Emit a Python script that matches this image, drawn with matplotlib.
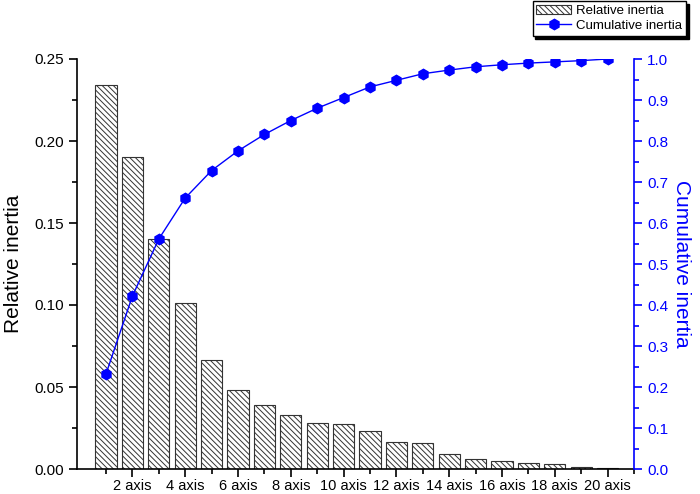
import matplotlib
matplotlib.use("Agg")
import matplotlib.pyplot as plt
from matplotlib.ticker import MultipleLocator, FixedLocator

plt.rcParams["font.family"] = ["Liberation Sans", "DejaVu Sans"]
plt.rcParams["hatch.linewidth"] = 0.7
plt.rcParams["hatch.color"] = "#333333"

# values
axes_idx = list(range(1, 21))
relative = [0.234, 0.190, 0.140, 0.101, 0.0665, 0.048, 0.0388, 0.0327, 0.0279,
            0.0273, 0.0234, 0.0163, 0.0157, 0.0091, 0.0059, 0.0051, 0.0035,
            0.0029, 0.0014, 0.0004]
cumulative = [0.232, 0.422, 0.561, 0.661, 0.728, 0.776, 0.816, 0.850, 0.880,
              0.906, 0.932, 0.948, 0.964, 0.973, 0.981, 0.986, 0.990, 0.993,
              0.996, 1.000]
tick_pos = list(range(2, 21, 2))
tick_labels = [f"{i} axis" for i in tick_pos]

blue = "#0000ff"

fig = plt.figure(figsize=(7, 4.94), dpi=100)
ax = fig.add_axes([77 / 700, 1 - 469 / 494, (634 - 77) / 700, (469 - 59) / 494])

bars = ax.bar(axes_idx, relative, width=0.8, color="white", edgecolor="#333333",
              linewidth=0.8, hatch="\\\\\\\\\\\\", label="Relative inertia")
ax.set_xlim(-0.1, 21)
ax.set_ylim(0, 0.25)
ax.yaxis.set_major_locator(MultipleLocator(0.05))
ax.yaxis.set_minor_locator(MultipleLocator(0.025))
ax.xaxis.set_major_locator(FixedLocator(tick_pos))
ax.xaxis.set_minor_locator(FixedLocator(list(range(1, 22, 2))))
ax.set_xticklabels(tick_labels)
ax.tick_params(which="both", direction="out", labelsize=10.5, width=1.2)
ax.tick_params(axis="y", labelsize=11)
ax.tick_params(axis="x", pad=1.5)
ax.tick_params(which="major", length=6)
ax.tick_params(which="minor", length=3.5)
ax.set_ylabel("Relative inertia", fontsize=15, labelpad=8)
ax.spines["top"].set_visible(False)
ax.spines["right"].set_visible(False)
for s in ("left", "bottom"):
    ax.spines[s].set_linewidth(1.2)

ax2 = ax.twinx()
line, = ax2.plot(axes_idx, cumulative, color=blue, linewidth=1, marker="h",
                 markersize=7.5, label="Cumulative inertia")
ax2.set_ylim(0, 1.0)
ax2.yaxis.set_major_locator(MultipleLocator(0.1))
ax2.yaxis.set_minor_locator(MultipleLocator(0.05))
ax2.tick_params(which="both", direction="out", labelsize=11, colors=blue, width=1.2)
ax2.tick_params(which="major", length=6)
ax2.tick_params(which="minor", length=3.5)
ax2.set_ylabel("Cumulative inertia", fontsize=15, color=blue, rotation=270,
               labelpad=16)
for s in ("top", "left", "bottom"):
    ax2.spines[s].set_visible(False)
ax2.spines["right"].set_color(blue)
ax2.spines["right"].set_linewidth(1.2)

fig.legend([bars, line], ["Relative inertia", "Cumulative inertia"],
           loc="upper right", bbox_to_anchor=(686 / 700, 1 - 1 / 494),
           borderaxespad=0, fancybox=False, edgecolor="black", framealpha=1,
           shadow={"color": "black", "alpha": 1}, fontsize=9.5,
           handlelength=2.6, borderpad=0.3, labelspacing=0.2, handletextpad=0.4)

fig.savefig("out.png", dpi=100)
